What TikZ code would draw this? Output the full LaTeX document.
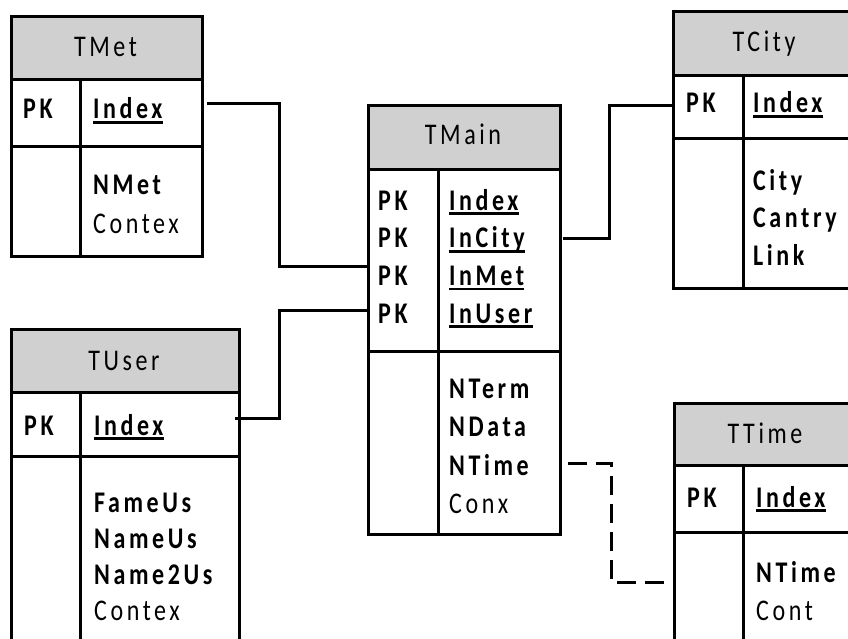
\documentclass[tikz,border=0pt]{standalone}
\usepackage{fontspec}
\setmainfont{Carlito}[FakeStretch=0.8, LetterSpace=12]
\definecolor{hdrgray}{RGB}{208,208,208}
\begin{document}
\begin{tikzpicture}[x=1pt,y=-1pt,
  box/.style={draw=black, line width=3pt, anchor=north west, inner sep=0pt},
  hdr/.style={box, fill=hdrgray},
  cell/.style={box, fill=white},
  htxt/.style={anchor=base, inner sep=0pt, font=\fontsize{30}{36}\selectfont},
  txt/.style={anchor=base west, inner sep=0pt, font=\fontsize{30}{36}\selectfont},
  btxt/.style={txt, font=\fontsize{30}{36}\selectfont\bfseries},
  uline/.style={line width=2.6pt},
  relline/.style={draw=black, line width=3pt},
  reldash/.style={relline, dash pattern=on 19pt off 9pt}
]
\useasboundingbox (0,0) rectangle (848,639);
\clip (0,0) rectangle (848,639);

% ---------- TMet ----------
\node[hdr, minimum width=191pt, minimum height=63pt] (tmetH) at (10,15) {};
\node[cell, minimum width=69pt, minimum height=67pt] (tmetP) at (10,78) {};
\node[cell, minimum width=122pt, minimum height=67pt] (tmetK) at (79,78) {};
\node[cell, minimum width=69pt, minimum height=110pt] (tmetL) at (10,145) {};
\node[cell, minimum width=122pt, minimum height=110pt] (tmetB) at (79,145) {};
\node[htxt] (tmetT) at (105.5,57) {TMet};
\node[btxt] (tmetPK) at (23,119) {PK};
\node[btxt] (tmetI) at (93,119) {Index};
\draw[uline] ([yshift=-3.5pt]tmetI.base west) -- ([yshift=-3.5pt]tmetI.base east);
\node[btxt] (tmetF1) at (93,195) {NMet};
\node[txt] (tmetF2) at (93,233) {Contex};

% ---------- TMain ----------
\node[hdr, minimum width=192pt, minimum height=64pt] (tmainH) at (367,104) {};
\node[cell, minimum width=70pt, minimum height=182pt] (tmainP) at (367,168) {};
\node[cell, minimum width=122pt, minimum height=182pt] (tmainK) at (437,168) {};
\node[cell, minimum width=70pt, minimum height=183pt] (tmainL) at (367,350) {};
\node[cell, minimum width=122pt, minimum height=183pt] (tmainB) at (437,350) {};
\node[htxt] (tmainT) at (463,145) {TMain};
\node[btxt] (tmainPK1) at (378,210) {PK};
\node[btxt] (tmainPK2) at (378,247.7) {PK};
\node[btxt] (tmainPK3) at (378,285.4) {PK};
\node[btxt] (tmainPK4) at (378,323) {PK};
\node[btxt] (tmainK1) at (449,210) {Index};
\node[btxt] (tmainK2) at (449,247.7) {InCity};
\node[btxt] (tmainK3) at (449,285.4) {InMet};
\node[btxt] (tmainK4) at (449,323) {InUser};
\foreach \k in {tmainK1,tmainK2,tmainK3,tmainK4}
  \draw[uline] ([yshift=-3.5pt]\k.base west) -- ([yshift=-3.5pt]\k.base east);
\node[btxt] (tmainF1) at (449,398) {NTerm};
\node[btxt] (tmainF2) at (449,436.5) {NData};
\node[btxt] (tmainF3) at (449,475) {NTime};
\node[txt] (tmainF4) at (449,513) {Conx};

% ---------- TCity ----------
\node[hdr, minimum width=184pt, minimum height=64pt] (tcityH) at (672,10) {};
\node[cell, minimum width=70pt, minimum height=63pt] (tcityP) at (672,74) {};
\node[cell, minimum width=114pt, minimum height=63pt] (tcityK) at (742,74) {};
\node[cell, minimum width=70pt, minimum height=150pt] (tcityL) at (672,137) {};
\node[cell, minimum width=114pt, minimum height=150pt] (tcityB) at (742,137) {};
\node[htxt] (tcityT) at (764,52) {TCity};
\node[btxt] (tcityPK) at (686,113) {PK};
\node[btxt] (tcityI) at (753,113) {Index};
\draw[uline] ([yshift=-3.5pt]tcityI.base west) -- ([yshift=-3.5pt]tcityI.base east);
\node[btxt] (tcityF1) at (753,190) {City};
\node[btxt] (tcityF2) at (753,227.5) {Cantry};
\node[btxt] (tcityF3) at (753,265) {Link};

% ---------- TUser ----------
\node[hdr, minimum width=228pt, minimum height=63pt] (tuserH) at (10,328) {};
\node[cell, minimum width=69pt, minimum height=64pt] (tuserP) at (10,391) {};
\node[cell, minimum width=159pt, minimum height=64pt] (tuserK) at (79,391) {};
\node[cell, minimum width=69pt, minimum height=210pt] (tuserL) at (10,455) {};
\node[cell, minimum width=159pt, minimum height=210pt] (tuserB) at (79,455) {};
\node[htxt] (tuserT) at (124,370) {TUser};
\node[btxt] (tuserPK) at (24,435) {PK};
\node[btxt] (tuserI) at (94,435) {Index};
\draw[uline] ([yshift=-3.5pt]tuserI.base west) -- ([yshift=-3.5pt]tuserI.base east);
\node[btxt] (tuserF1) at (94,512) {FameUs};
\node[btxt] (tuserF2) at (94,548) {NameUs};
\node[btxt] (tuserF3) at (94,584.5) {Name2Us};
\node[txt] (tuserF4) at (94,620) {Contex};

% ---------- TTime ----------
\node[hdr, minimum width=184pt, minimum height=62pt] (ttimeH) at (673,402) {};
\node[cell, minimum width=69pt, minimum height=67pt] (ttimeP) at (673,464) {};
\node[cell, minimum width=115pt, minimum height=67pt] (ttimeK) at (742,464) {};
\node[cell, minimum width=69pt, minimum height=129pt] (ttimeL) at (673,531) {};
\node[cell, minimum width=115pt, minimum height=129pt] (ttimeB) at (742,531) {};
\node[htxt] (ttimeT) at (765,443) {TTime};
\node[btxt] (ttimePK) at (687,507) {PK};
\node[btxt] (ttimeI) at (756,507) {Index};
\draw[uline] ([yshift=-3.5pt]ttimeI.base west) -- ([yshift=-3.5pt]ttimeI.base east);
\node[btxt] (ttimeF1) at (756,582) {NTime};
\node[txt] (ttimeF2) at (756,620) {Cont};

% ---------- connectors ----------
\coordinate (metS) at (207,104);
\coordinate (metJ) at (279,266);
\path[relline] (metS) -| (metJ) -- (tmainP.west |- metJ);

\coordinate (usrS) at (235,418);
\coordinate (usrJ) at (279,310);
\path[relline] (usrS) -| (usrJ) -- (tmainP.west |- usrJ);

\coordinate (citS) at (563,238);
\coordinate (citJ) at (609,106);
\path[relline] (citS) -| (citJ) -- (tcityP.west |- citJ);

\coordinate (timS) at (568,463);
\coordinate (timJ) at (611,582);
\path[reldash] (timS) -| (timJ) -- (ttimeP.west |- timJ);
\end{tikzpicture}
\end{document}
